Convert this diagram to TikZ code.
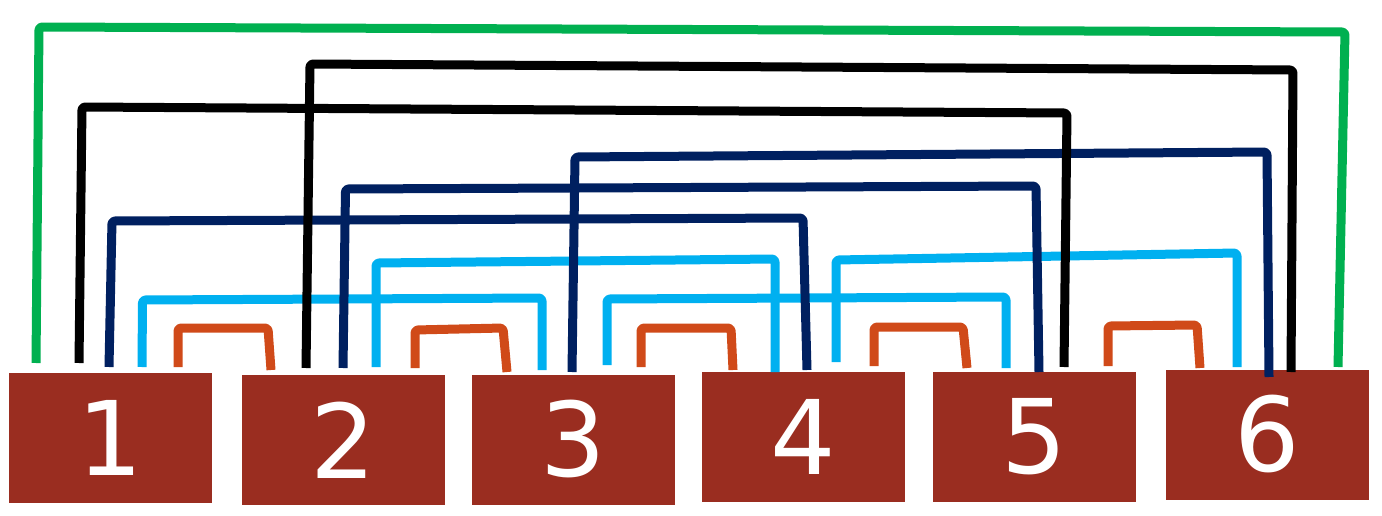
\documentclass[tikz,border=0pt]{standalone}
\usepackage{fontspec}
\setmainfont{DejaVu Sans}
\definecolor{wgreen}{HTML}{00B050}
\definecolor{wnavy}{HTML}{002060}
\definecolor{wlblue}{HTML}{00B0F0}
\definecolor{worange}{HTML}{D04A19}
\definecolor{boxred}{HTML}{9A2D20}
\begin{document}
\begin{tikzpicture}[x=1pt,y=-1pt,
  box/.style={rectangle, fill=boxred, draw=none, minimum width=203pt, minimum height=130pt,
    inner sep=0pt, text=white, font=\fontsize{103}{103}\selectfont},
  wire/.style={line width=9pt, line join=round, rounded corners=3pt}]
\useasboundingbox (0,0) rectangle (1382,516);
\fill[white] (0,0) rectangle (1382,516);
% boxes
\node[box] (b1) at (110,438) {1};
\node[box] (b2) at (343.5,440) {2};
\node[box] (b3) at (573.5,439.5) {3};
\node[box] (b4) at (803.5,437) {4};
\node[box] (b5) at (1034,436.5) {5};
\node[box] (b6) at (1267.5,434.5) {6};
% connector end points
\coordinate (o1a) at (178,367);  \coordinate (o1b) at (271,370);
\coordinate (o2a) at (415,368);  \coordinate (o2b) at (507,372);
\coordinate (o3a) at (641,367);  \coordinate (o3b) at (733,370);
\coordinate (o4a) at (874,366);  \coordinate (o4b) at (967,368);
\coordinate (o5a) at (1108,366); \coordinate (o5b) at (1200,368);
\coordinate (l1a) at (142,367);  \coordinate (l1b) at (542,370);
\coordinate (l2a) at (376,367);  \coordinate (l2b) at (775,372);
\coordinate (l3a) at (607,365);  \coordinate (l3b) at (1006,368);
\coordinate (l4a) at (836,362);  \coordinate (l4b) at (1237,367);
\coordinate (n1a) at (109,367);  \coordinate (n1b) at (807,370);
\coordinate (n2a) at (343,368);  \coordinate (n2b) at (1039,372);
\coordinate (n3a) at (572,372);  \coordinate (n3b) at (1269,377);
\coordinate (k1a) at (79,363);   \coordinate (k1b) at (1064,367);
\coordinate (k2a) at (306,368);  \coordinate (k2b) at (1291,372);
\coordinate (g1a) at (36,363);   \coordinate (g1b) at (1338,367);
% orange: neighbours
\draw[wire,worange] (o1a) -- (178,328) -- (268,328) -- (o1b);
\draw[wire,worange] (o2a) -- (415,330) -- (503,328) -- (o2b);
\draw[wire,worange] (o3a) -- (641,328) -- (731,328) -- (o3b);
\draw[wire,worange] (o4a) -- (874,327) -- (963,327) -- (o4b);
\draw[wire,worange] (o5a) -- (1108,326) -- (1197,325) -- (o5b);
% light blue: two apart
\draw[wire,wlblue] (l1a) -- (142.5,300) -- (542,298) -- (l1b);
\draw[wire,wlblue] (l2a) -- (376,263) -- (775,259) -- (l2b);
\draw[wire,wlblue] (l3a) -- (607,299) -- (1006,297) -- (l3b);
\draw[wire,wlblue] (l4a) -- (836,260) -- (1237,253) -- (l4b);
% navy: three apart
\draw[wire,wnavy] (n1a) -- (112,221) -- (803,218) -- (n1b);
\draw[wire,wnavy] (n2a) -- (345.5,189) -- (1036,186) -- (n2b);
\draw[wire,wnavy] (n3a) -- (575,157) -- (1267,152) -- (n3b);
% black: four apart
\draw[wire,black] (k1a) -- (82,107) -- (1067,113) -- (k1b);
\draw[wire,black] (k2a) -- (310,64) -- (1293,70) -- (k2b);
% green: five apart
\draw[wire,wgreen] (g1a) -- (39,27) -- (1345,32) -- (g1b);
\end{tikzpicture}
\end{document}
